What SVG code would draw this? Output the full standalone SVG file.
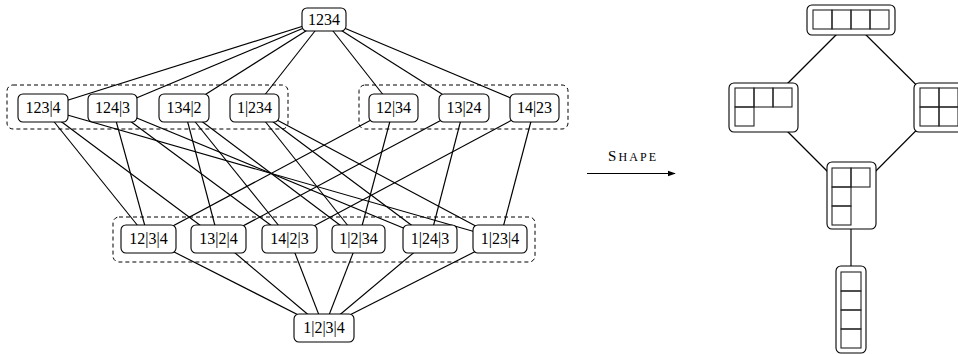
<svg xmlns="http://www.w3.org/2000/svg" width="958" height="354" viewBox="0 0 958 354">
<defs>
<style>
.nd{fill:#fff;stroke:#000;stroke-width:1.1}
.grp{fill:none;stroke:#000;stroke-width:1;stroke-dasharray:4 3}
.e{stroke:#000;stroke-width:1.15;fill:none}
.t{font-family:"Liberation Serif","DejaVu Serif",serif;font-size:16px;text-anchor:middle;fill:#000}
.c{fill:none;stroke:#222;stroke-width:1.1}
</style>
<marker id="ah" viewBox="0 0 10 10" refX="9" refY="5" markerWidth="7" markerHeight="7" orient="auto">
<path d="M0,1.5 L10,5 L0,8.5 Z" fill="#000"/>
</marker>
</defs>
<rect width="958" height="354" fill="#fff"/>

<g id="groups">
<rect class="grp" x="7" y="85" width="281" height="44" rx="6"/>
<rect class="grp" x="359" y="85" width="209" height="44" rx="6"/>
<rect class="grp" x="113" y="217" width="422" height="45" rx="6"/>
</g>

<g id="connectors">
<line class="e" x1="324" y1="19.5" x2="43" y2="108"/>
<line class="e" x1="324" y1="19.5" x2="112.5" y2="108"/>
<line class="e" x1="324" y1="19.5" x2="184" y2="108"/>
<line class="e" x1="324" y1="19.5" x2="254.5" y2="108"/>
<line class="e" x1="324" y1="19.5" x2="393.5" y2="108"/>
<line class="e" x1="324" y1="19.5" x2="464" y2="108"/>
<line class="e" x1="324" y1="19.5" x2="534.5" y2="108"/>
<line class="e" x1="43" y1="108" x2="148.5" y2="239"/>
<line class="e" x1="43" y1="108" x2="218.5" y2="239"/>
<line class="e" x1="43" y1="108" x2="500" y2="239"/>
<line class="e" x1="112.5" y1="108" x2="148.5" y2="239"/>
<line class="e" x1="112.5" y1="108" x2="289.5" y2="239"/>
<line class="e" x1="112.5" y1="108" x2="430" y2="239"/>
<line class="e" x1="184" y1="108" x2="218.5" y2="239"/>
<line class="e" x1="184" y1="108" x2="289.5" y2="239"/>
<line class="e" x1="184" y1="108" x2="358.5" y2="239"/>
<line class="e" x1="254.5" y1="108" x2="358.5" y2="239"/>
<line class="e" x1="254.5" y1="108" x2="430" y2="239"/>
<line class="e" x1="254.5" y1="108" x2="500" y2="239"/>
<line class="e" x1="393.5" y1="108" x2="148.5" y2="239"/>
<line class="e" x1="393.5" y1="108" x2="358.5" y2="239"/>
<line class="e" x1="464" y1="108" x2="218.5" y2="239"/>
<line class="e" x1="464" y1="108" x2="430" y2="239"/>
<line class="e" x1="534.5" y1="108" x2="289.5" y2="239"/>
<line class="e" x1="534.5" y1="108" x2="500" y2="239"/>
<line class="e" x1="148.5" y1="239" x2="324" y2="328"/>
<line class="e" x1="218.5" y1="239" x2="324" y2="328"/>
<line class="e" x1="289.5" y1="239" x2="324" y2="328"/>
<line class="e" x1="358.5" y1="239" x2="324" y2="328"/>
<line class="e" x1="430" y1="239" x2="324" y2="328"/>
<line class="e" x1="500" y1="239" x2="324" y2="328"/>
<line class="e" x1="851" y1="20" x2="763.5" y2="107.5"/>
<line class="e" x1="851" y1="20" x2="939" y2="107.5"/>
<line class="e" x1="763.5" y1="107.5" x2="851.5" y2="195.5"/>
<line class="e" x1="939" y1="107.5" x2="851.5" y2="195.5"/>
<line class="e" x1="851" y1="195.5" x2="851" y2="300"/>
<line class="e" x1="587" y1="173.5" x2="675" y2="173.5" marker-end="url(#ah)"/>
</g>

<g id="n1234"><rect class="nd" x="302" y="8" width="44" height="23" rx="5"/><text class="t" x="324" y="25">1234</text></g>

<g id="n123_4"><rect class="nd" x="18" y="94" width="50" height="28" rx="5"/><text class="t" x="43" y="113">123|4</text></g>
<g id="n124_3"><rect class="nd" x="88" y="94" width="49" height="28" rx="5"/><text class="t" x="112.5" y="113">124|3</text></g>
<g id="n134_2"><rect class="nd" x="159" y="94" width="50" height="28" rx="5"/><text class="t" x="184" y="113">134|2</text></g>
<g id="n1_234"><rect class="nd" x="230" y="94" width="49" height="28" rx="5"/><text class="t" x="254.5" y="113">1|234</text></g>
<g id="n12_34"><rect class="nd" x="369" y="94" width="49" height="28" rx="5"/><text class="t" x="393.5" y="113">12|34</text></g>
<g id="n13_24"><rect class="nd" x="439" y="94" width="50" height="28" rx="5"/><text class="t" x="464" y="113">13|24</text></g>
<g id="n14_23"><rect class="nd" x="510" y="94" width="49" height="28" rx="5"/><text class="t" x="534.5" y="113">14|23</text></g>

<g id="n12_3_4"><rect class="nd" x="121" y="225" width="55" height="28" rx="5"/><text class="t" x="148.5" y="244">12|3|4</text></g>
<g id="n13_2_4"><rect class="nd" x="191" y="225" width="55" height="28" rx="5"/><text class="t" x="218.5" y="244">13|2|4</text></g>
<g id="n14_2_3"><rect class="nd" x="262" y="225" width="55" height="28" rx="5"/><text class="t" x="289.5" y="244">14|2|3</text></g>
<g id="n1_2_34"><rect class="nd" x="332" y="225" width="53" height="28" rx="5"/><text class="t" x="358.5" y="244">1|2|34</text></g>
<g id="n1_24_3"><rect class="nd" x="403" y="225" width="54" height="28" rx="5"/><text class="t" x="430" y="244">1|24|3</text></g>
<g id="n1_23_4"><rect class="nd" x="473" y="225" width="54" height="28" rx="5"/><text class="t" x="500" y="244">1|23|4</text></g>

<g id="n1_2_3_4"><rect class="nd" x="294" y="314" width="60" height="28" rx="5"/><text class="t" x="324" y="333">1|2|3|4</text></g>

<g id="label-shape"><text x="632" y="161" font-family="'Liberation Serif','DejaVu Serif',serif" text-anchor="middle" textLength="48" lengthAdjust="spacing"><tspan font-size="15">S</tspan><tspan font-size="12">HAPE</tspan></text></g>

<g id="y4">
<rect class="nd" x="807" y="5" width="88" height="30" rx="5"/>
<rect class="c" x="813" y="10" width="19" height="19"/><rect class="c" x="832" y="10" width="19" height="19"/><rect class="c" x="851" y="10" width="19" height="19"/><rect class="c" x="870" y="10" width="19" height="19"/>
</g>
<g id="y31">
<rect class="nd" x="729" y="83" width="69" height="49" rx="5"/>
<rect class="c" x="735" y="88" width="19" height="19"/><rect class="c" x="754" y="88" width="19" height="19"/><rect class="c" x="773" y="88" width="19" height="19"/><rect class="c" x="735" y="107" width="19" height="19"/>
</g>
<g id="y22">
<rect class="nd" x="914" y="83" width="50" height="49" rx="5"/>
<rect class="c" x="920" y="88" width="19" height="19"/><rect class="c" x="939" y="88" width="19" height="19"/><rect class="c" x="920" y="107" width="19" height="19"/><rect class="c" x="939" y="107" width="19" height="19"/>
</g>
<g id="y211">
<rect class="nd" x="827" y="162" width="49" height="67" rx="5"/>
<rect class="c" x="832" y="168" width="19" height="19"/><rect class="c" x="851" y="168" width="19" height="19"/><rect class="c" x="832" y="187" width="19" height="19"/><rect class="c" x="832" y="206" width="19" height="19"/>
</g>
<g id="y1111">
<rect class="nd" x="836" y="266" width="30" height="87" rx="5"/>
<rect class="c" x="841" y="272" width="20" height="19"/><rect class="c" x="841" y="291" width="20" height="19"/><rect class="c" x="841" y="310" width="20" height="19"/><rect class="c" x="841" y="329" width="20" height="19"/>
</g>
</svg>
